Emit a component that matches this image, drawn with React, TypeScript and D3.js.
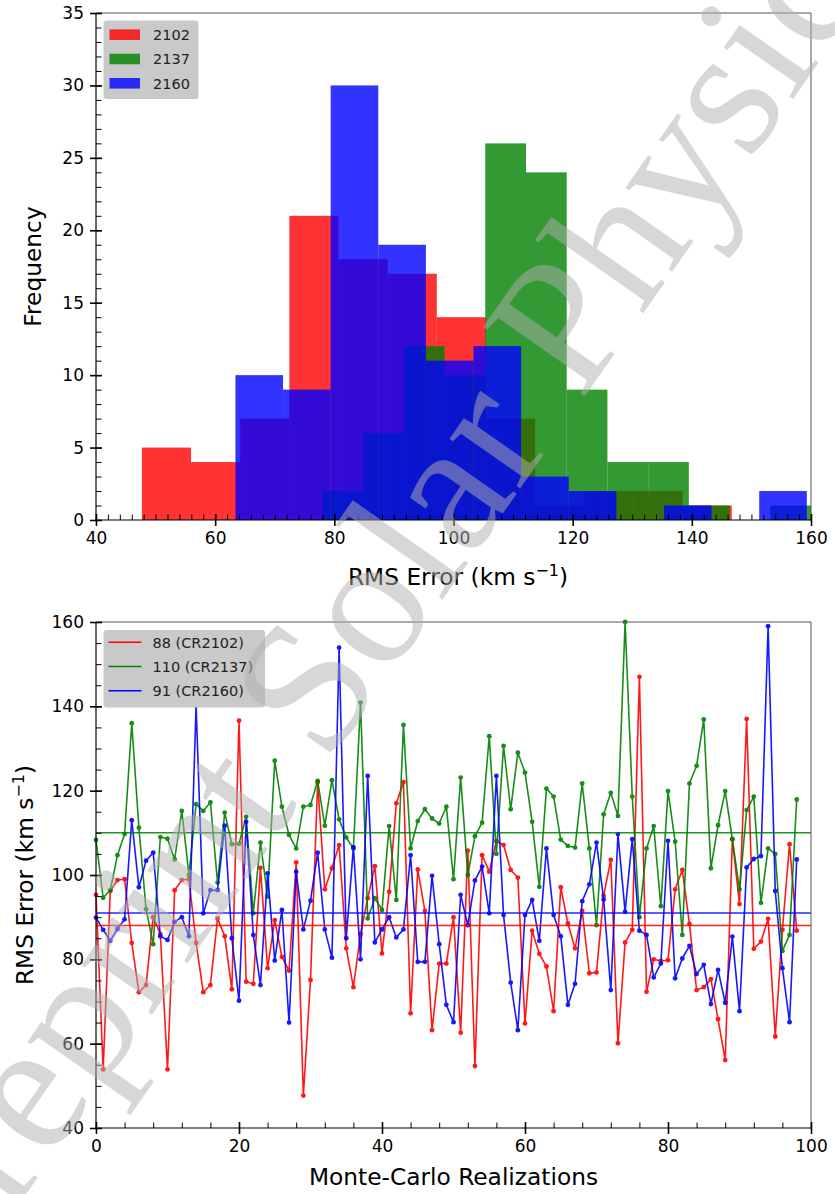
import * as d3 from 'd3';
import { useEffect, useRef } from 'react';

const W = 835;
const H = 1194;

// ---- top panel: histograms (12 bins between each series' min and max) ----
const histLabels = ['2102', '2137', '2160'];
const histColors = ['#ff0000', '#008000', '#0000ff'];
const range2102 = [47.7, 146.7];
const range2137 = [78.0, 160.0];
const range2160 = [63.4, 159.3];
const counts2102 = [5, 4, 7, 21, 18, 17, 14, 7, 1, 2, 2, 1];
const counts2137 = [2, 6, 12, 10, 26, 24, 9, 4, 4, 1, 0, 1];
const counts2160 = [10, 9, 30, 19, 11, 12, 3, 2, 0, 1, 0, 2];

const histXTicks = [40, 60, 80, 100, 120, 140, 160];
const histYTicks = [0, 5, 10, 15, 20, 25, 30, 35];

// ---- bottom panel: RMS error per Monte-Carlo realization ----
const rms2102 = [
  95.3, 53.9, 96.2, 98.8, 99.0, 83.9, 72.2, 73.9, 90.0, 86.0,
  53.9, 96.4, 98.8, 99.0, 83.9, 72.2, 73.9, 89.7, 85.5, 72.9,
  136.6, 74.7, 74.2, 101.7, 77.9, 89.3, 80.6, 77.3, 103.0, 47.7,
  75.1, 122.0, 96.6, 101.6, 107.1, 82.6, 73.4, 86.0, 94.5, 102.1,
  81.4, 96.0, 117.0, 122.0, 67.2, 101.3, 91.5, 63.2, 79.0, 79.0,
  90.0, 62.6, 105.8, 54.7, 104.7, 100.8, 108.0, 107.1, 101.2, 99.4,
  64.8, 86.8, 81.3, 78.3, 67.7, 97.1, 88.5, 82.6, 91.5, 76.7,
  76.9, 95.1, 103.6, 60.1, 84.0, 87.0, 147.0, 72.3, 80.0, 79.6,
  79.8, 96.6, 101.2, 88.4, 72.7, 73.4, 75.3, 65.8, 56.1, 108.5,
  93.1, 137.0, 82.5, 84.2, 89.6, 61.7, 87.0, 107.3, 86.8,
];
const rms2137 = [
  108.3, 94.6, 96.4, 104.7, 109.7, 136.0, 111.2, 91.9, 83.6, 109.0,
  108.6, 103.7, 115.2, 100.0, 116.8, 115.2, 117.2, 98.2, 114.8, 107.3,
  107.4, 113.8, 90.9, 107.7, 94.9, 127.1, 116.2, 109.5, 106.3, 116.2,
  116.6, 122.3, 111.7, 122.5, 113.2, 108.9, 106.3, 140.9, 89.7, 94.5,
  91.7, 111.6, 94.1, 135.6, 106.3, 112.8, 115.6, 113.4, 112.2, 116.2,
  99.0, 123.1, 100.0, 109.2, 112.4, 132.9, 105.0, 130.6, 115.6, 129.0,
  124.3, 112.6, 97.2, 120.5, 118.6, 108.4, 106.9, 106.5, 121.7, 106.3,
  88.1, 114.4, 119.5, 114.0, 160.0, 118.6, 90.0, 106.3, 111.6, 92.6,
  119.9, 107.9, 85.8, 121.7, 125.9, 136.9, 101.6, 111.8, 119.9, 108.5,
  96.6, 115.4, 118.6, 93.4, 106.3, 105.0, 82.0, 85.8, 117.9,
];
const rms2160 = [
  89.9, 87.0, 84.4, 87.2, 89.5, 113.0, 97.1, 103.4, 105.3, 85.5,
  84.6, 88.9, 90.0, 85.5, 140.2, 90.9, 96.4, 96.4, 111.7, 85.0,
  70.2, 112.6, 85.8, 73.9, 100.4, 79.7, 91.7, 65.0, 100.8, 87.1,
  93.9, 105.3, 87.1, 80.4, 153.9, 85.0, 106.6, 80.0, 123.5, 84.0,
  87.1, 90.0, 85.2, 87.1, 104.7, 79.4, 79.4, 99.8, 83.6, 69.2,
  65.1, 95.3, 88.1, 98.7, 102.0, 90.9, 123.5, 90.5, 74.5, 63.2,
  90.5, 94.1, 84.4, 106.3, 90.5, 85.5, 69.2, 74.2, 93.8, 97.8,
  107.7, 94.2, 72.7, 109.7, 91.3, 108.5, 86.8, 85.8, 75.7, 79.0,
  108.1, 75.5, 80.2, 83.2, 76.5, 78.7, 69.4, 77.5, 69.7, 85.4,
  67.7, 101.8, 103.8, 104.5, 159.0, 96.2, 77.9, 65.1, 103.7,
];
const meanValues = [88, 110, 91];
const seriesLabels = ['88 (CR2102)', '110 (CR2137)', '91 (CR2160)'];

const mcXTicks = [0, 20, 40, 60, 80, 100];
const mcYTicks = [40, 60, 80, 100, 120, 140, 160];

const FONT = 'DejaVu Sans, sans-serif';
const LABEL_SIZE = 23.3;

type Sel = d3.Selection<SVGGElement, unknown, null, undefined>;

// matplotlib-like frame: inout major ticks, inward minor ticks on left/bottom
function drawFrame(
  g: Sel,
  x: d3.ScaleLinear<number, number>,
  y: d3.ScaleLinear<number, number>,
  xMajor: number[],
  xMinor: number[],
  yMajor: number[],
  yMinor: number[]
) {
  const [x0, x1] = x.range();
  const [y0, y1] = y.range();

  // top / right spines (gray), left / bottom (black)
  g.append('line').attr('x1', x0).attr('x2', x1).attr('y1', y1).attr('y2', y1)
    .attr('stroke', '#555').attr('stroke-width', 1);
  g.append('line').attr('x1', x1).attr('x2', x1).attr('y1', y0).attr('y2', y1)
    .attr('stroke', '#555').attr('stroke-width', 1);

  const bottom = g.append('g').attr('transform', `translate(0,${y0})`);
  bottom.append('g').call(d3.axisBottom(x).tickValues(xMinor).tickSize(-5.5).tickFormat(() => ''))
    .call(s => s.select('.domain').remove())
    .selectAll('line').attr('stroke-width', 1);
  bottom.append('g').call(d3.axisBottom(x).tickValues(xMajor).tickSize(-6).tickFormat(() => ''))
    .call(s => s.select('.domain').remove())
    .selectAll('line').attr('stroke-width', 1.6);
  const bx = bottom.append('g').call(d3.axisBottom(x).tickValues(xMajor).tickSize(6).tickPadding(6).tickFormat(d3.format('d')))
    .call(s => s.select('.domain').remove());
  bx.selectAll('line').attr('stroke-width', 1.6);
  bx.selectAll('text').attr('font-size', 17).attr('font-family', FONT).attr('fill', '#000');

  const left = g.append('g').attr('transform', `translate(${x0},0)`);
  left.append('g').call(d3.axisLeft(y).tickValues(yMinor).tickSize(-5.5).tickFormat(() => ''))
    .call(s => s.select('.domain').remove())
    .selectAll('line').attr('stroke-width', 1);
  left.append('g').call(d3.axisLeft(y).tickValues(yMajor).tickSize(-6).tickFormat(() => ''))
    .call(s => s.select('.domain').remove())
    .selectAll('line').attr('stroke-width', 1.6);
  const ly = left.append('g').call(d3.axisLeft(y).tickValues(yMajor).tickSize(6).tickPadding(6).tickFormat(d3.format('d')))
    .call(s => s.select('.domain').remove());
  ly.selectAll('line').attr('stroke-width', 1.6);
  ly.selectAll('text').attr('font-size', 17).attr('font-family', FONT).attr('fill', '#000');

  g.append('line').attr('x1', x0).attr('x2', x1).attr('y1', y0).attr('y2', y0)
    .attr('stroke', '#000').attr('stroke-width', 1.2);
  g.append('line').attr('x1', x0).attr('x2', x0).attr('y1', y0).attr('y2', y1)
    .attr('stroke', '#000').attr('stroke-width', 1.2);
}

function rmsLabel(t: d3.Selection<SVGTextElement, unknown, null, undefined>) {
  t.append('tspan').text('RMS Error (km s');
  t.append('tspan').text('\u22121').attr('font-size', 16).attr('dy', -9);
  t.append('tspan').text(')').attr('dy', 9);
}

const App = () => {
  const svgRef = useRef<SVGSVGElement | null>(null);

  useEffect(() => {
    if (!svgRef.current) return;
    document.body.style.margin = '0';
    const svg = d3.select(svgRef.current);
    svg.selectAll('*').remove();
    svg.append('rect').attr('width', W).attr('height', H).attr('fill', '#fff');

    // ===== histogram panel =====
    const hx = d3.scaleLinear().domain([40, 160]).range([96, 811]);
    const hy = d3.scaleLinear().domain([0, 35]).range([520, 13]);
    const top = svg.append('g');

    const hists = [
      { counts: counts2102, range: range2102 },
      { counts: counts2137, range: range2137 },
      { counts: counts2160, range: range2160 },
    ];
    hists.forEach((h, k) => {
      const n = h.counts.length;
      const step = (h.range[1] - h.range[0]) / n;
      const bins = h.counts.map((c, j) => ({
        x0: h.range[0] + j * step,
        x1: h.range[0] + (j + 1) * step,
        c,
      })).filter(b => b.c > 0);
      top.append('g').selectAll('rect')
        .data(bins)
        .join('rect')
        .attr('x', b => hx(b.x0))
        .attr('width', b => hx(b.x1) - hx(b.x0))
        .attr('y', b => hy(b.c))
        .attr('height', b => hy(0) - hy(b.c))
        .attr('fill', histColors[k])
        .attr('fill-opacity', 0.8);
    });

    drawFrame(top, hx, hy, histXTicks, d3.range(40, 161, 2), histYTicks, d3.range(0, 36, 1));

    // legend
    const lg = top.append('g');
    lg.append('rect').attr('x', 103.5).attr('y', 20.5).attr('width', 95).attr('height', 78.5)
      .attr('rx', 3).attr('fill', '#c9c9c9');
    histLabels.forEach((lab, k) => {
      const cy = 34.7 + k * 24.3;
      lg.append('rect').attr('x', 109.5).attr('y', cy - 5.3).attr('width', 30.5).attr('height', 10.6)
        .attr('fill', histColors[k]).attr('fill-opacity', 0.8);
      lg.append('text').attr('x', 153).attr('y', cy).attr('dy', '0.36em')
        .attr('font-size', 14.5).attr('font-family', FONT).attr('fill', '#222').text(lab);
    });

    top.append('text')
      .attr('transform', 'translate(33,266.5) rotate(-90)')
      .attr('text-anchor', 'middle').attr('dy', '0.36em')
      .attr('font-size', LABEL_SIZE).attr('font-family', FONT).text('Frequency');
    top.append('text').attr('x', 458).attr('y', 585)
      .attr('text-anchor', 'middle').attr('font-size', LABEL_SIZE).attr('font-family', FONT)
      .call(rmsLabel);

    // ===== realizations panel =====
    const mx = d3.scaleLinear().domain([0, 100]).range([96, 811]);
    const my = d3.scaleLinear().domain([40, 160]).range([1128, 622]);
    const bot = svg.append('g');

    const series = [rms2102, rms2137, rms2160];
    const line = d3.line<number>().x((_, i) => mx(i)).y(v => my(v));
    series.forEach((s, k) => {
      const g = bot.append('g').attr('opacity', 0.9);
      g.append('path').attr('d', line(s)).attr('fill', 'none')
        .attr('stroke', histColors[k]).attr('stroke-width', 1.6).attr('stroke-linejoin', 'round');
      g.selectAll('circle').data(s).join('circle')
        .attr('cx', (_, i) => mx(i)).attr('cy', v => my(v)).attr('r', 2.4)
        .attr('fill', histColors[k]);
    });
    meanValues.forEach((m, k) => {
      bot.append('line').attr('x1', mx(0)).attr('x2', mx(100)).attr('y1', my(m)).attr('y2', my(m))
        .attr('stroke', histColors[k]).attr('stroke-width', 1.5).attr('opacity', 0.85);
    });

    drawFrame(bot, mx, my, mcXTicks, d3.range(0, 101, 4), mcYTicks, d3.range(40, 161, 5));

    const lg2 = bot.append('g');
    lg2.append('rect').attr('x', 103.5).attr('y', 630).attr('width', 161.5).attr('height', 77.5)
      .attr('rx', 3).attr('fill', '#c9c9c9');
    seriesLabels.forEach((lab, k) => {
      const cy = 642.3 + k * 24.2;
      lg2.append('line').attr('x1', 108.5).attr('x2', 141.5).attr('y1', cy).attr('y2', cy)
        .attr('stroke', histColors[k]).attr('stroke-width', 1.6);
      lg2.append('text').attr('x', 152.5).attr('y', cy).attr('dy', '0.36em')
        .attr('font-size', 14.5).attr('font-family', FONT).attr('fill', '#222').text(lab);
    });

    bot.append('text')
      .attr('transform', 'translate(25,875) rotate(-90)')
      .attr('text-anchor', 'middle').attr('dy', '0.36em')
      .attr('font-size', LABEL_SIZE).attr('font-family', FONT)
      .call(rmsLabel);
    bot.append('text').attr('x', 453.5).attr('y', 1185)
      .attr('text-anchor', 'middle').attr('font-size', LABEL_SIZE).attr('font-family', FONT)
      .text('Monte-Carlo Realizations');

    // ===== watermark =====
    svg.append('text')
      .attr('transform', 'translate(-48,1300) rotate(-55)')
      .attr('font-size', 188).attr('font-family', 'Liberation Serif, serif')
      .attr('fill', '#b0b0b0').attr('fill-opacity', 0.5)
      .text('Preprint Solar Physics');
  }, []);

  return <svg ref={svgRef} width={W} height={H} style={{ display: 'block' }} />;
};

export default App;
